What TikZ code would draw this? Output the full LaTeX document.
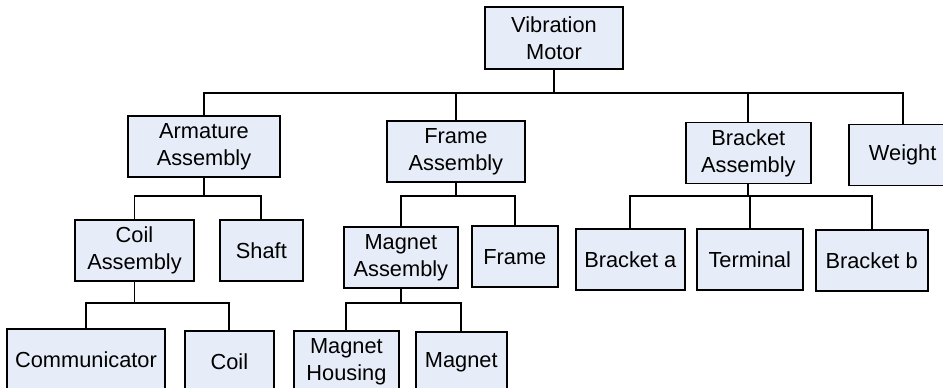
\documentclass[tikz,border=0pt]{standalone}
\usepackage{fontspec}
\setmainfont{Liberation Sans}
\usetikzlibrary{positioning}
\definecolor{partFill}{RGB}{231,237,248}

\begin{document}
\begin{tikzpicture}[x=1pt, y=1pt,
    every node/.style={rectangle, draw, line width=1.9pt, fill=partFill, align=center, inner sep=0pt, minimum height=61pt, font=\fontsize{21.8}{27}\selectfont},
    bar/.style={line width=1.9pt}
  ]
    \useasboundingbox (0,0) rectangle (943,-388);

    % Top node
    \node[minimum width=138pt, minimum height=62pt] (VM) at (554,-38) {Vibration\\Motor};

    % Level 1 (assemblies)
    \node[minimum width=152pt] (Arm) at (204,-146.5) {Armature\\Assembly};
    \node[minimum width=138pt, right=105pt of Arm, yshift=-5pt] (FrmA) {Frame\\Assembly};
    \node[minimum width=125pt, right=159pt of FrmA, yshift=-1.5pt] (BrkA) {Bracket\\Assembly};
    \node[minimum width=108pt, right=36pt of BrkA, yshift=-2pt] (Wgt) {Weight};

    % Level 2 (sub-assemblies and parts)
    \node[minimum width=119pt, below=41pt of Arm, xshift=-69.5pt] (CoilA) {Coil\\Assembly};
    \node[minimum width=83pt, right=24pt of CoilA] (Shaft) {Shaft};
    \node[minimum width=114pt, below=43pt of FrmA, xshift=-55pt] (MagA) {Magnet\\Assembly};
    \node[minimum width=86pt, right=12pt of MagA, yshift=0.5pt] (Frm) {Frame};
    \node[minimum width=109pt, below=44pt of BrkA, xshift=-118pt] (BrkPa) {Bracket a};
    \node[minimum width=106pt, right=10pt of BrkPa] (Term) {Terminal};
    \node[minimum width=112pt, right=11pt of Term, yshift=-1pt] (BrkPb) {Bracket b};

    % Level 3 (parts)
    \node[minimum width=158pt, below=46pt of CoilA, xshift=-48.5pt] (Comm) {Communicator};
    \node[minimum width=89pt, right=18pt of Comm, yshift=-2pt] (Coil) {Coil};
    \node[minimum width=105pt, below=41pt of MagA, xshift=-54.5pt] (MagH) {Magnet\\Housing};
    \node[minimum width=91pt, right=15pt of MagH, yshift=-1pt] (Mag) {Magnet};

    % Bus heights
    \coordinate (bus0) at (0,-93);
    \coordinate (bus1) at (0,-196);
    \coordinate (bus2) at (0,-303);

    % Connectors top layer
    \draw[bar] (VM.south) -- (VM.south |- bus0);
    \draw[bar] (Arm.north) |- (Wgt.north |- bus0) -- (Wgt.north);
    \draw[bar] (FrmA.north) -- (FrmA.north |- bus0);
    \draw[bar] (BrkA.north) -- (BrkA.north |- bus0);

    % Connectors middle layer
    \draw[bar] (Arm.south) -- (Arm.south |- bus1);
    \draw[bar] (CoilA.north) |- (Shaft.north |- bus1) -- (Shaft.north);
    \draw[bar] (FrmA.south) -- (FrmA.south |- bus1);
    \draw[bar] (MagA.north) |- (Frm.north |- bus1) -- (Frm.north);
    \draw[bar] (BrkA.south) -- (BrkA.south |- bus1);
    \draw[bar] (BrkPa.north) |- (BrkPb.north |- bus1) -- (BrkPb.north);
    \draw[bar] (Term.north) -- (Term.north |- bus1);

    % Connectors bottom layer
    \draw[bar] (CoilA.south) -- (CoilA.south |- bus2);
    \draw[bar] (Comm.north) |- (Coil.north |- bus2) -- (Coil.north);
    \draw[bar] (MagA.south) -- (MagA.south |- bus2);
    \draw[bar] (MagH.north) |- (Mag.north |- bus2) -- (Mag.north);

\end{tikzpicture}
\end{document}
